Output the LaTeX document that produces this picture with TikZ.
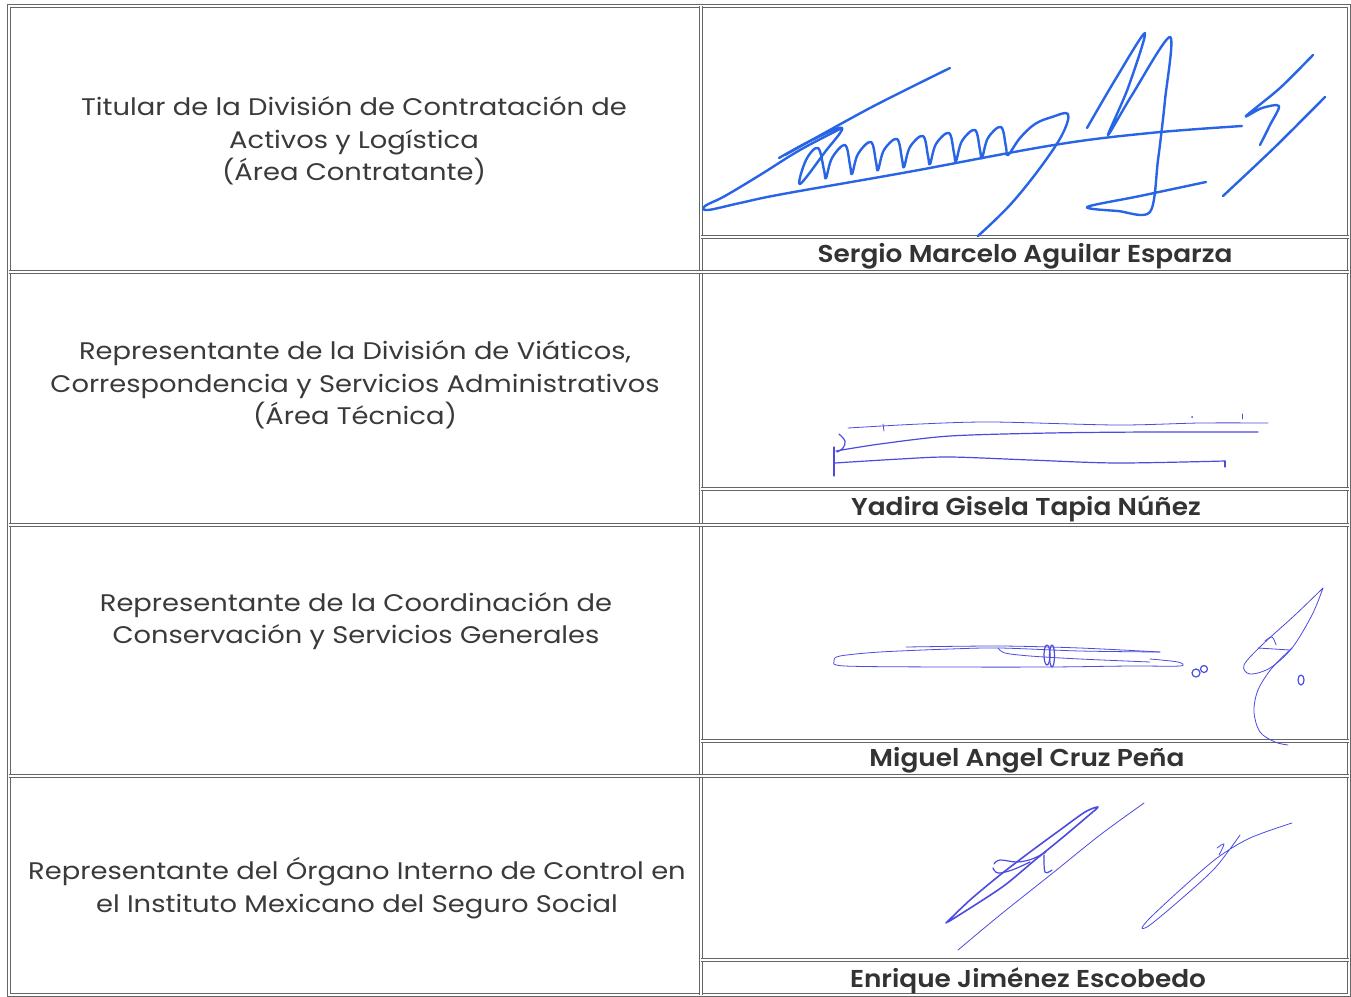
\documentclass[tikz,border=0pt]{standalone}
\usepackage{fontspec}
\setmainfont{Poppins}
\newfontfamily\rolefont{Poppins}[FakeStretch=1.14]
\newfontfamily\namefont{Poppins SemiBold}[FakeStretch=1.08]
\definecolor{txt}{HTML}{3A3A3A}
\definecolor{nametxt}{HTML}{333333}
\definecolor{rule}{HTML}{666666}
\definecolor{inkA}{RGB}{40,100,230}
\definecolor{inkB}{RGB}{75,75,225}
\tikzset{
  gridline/.style={draw=rule, line width=0.45pt, double=white, double distance=0.75pt},
  roletext/.style={align=center, inner sep=0pt, text=txt, font=\rolefont\fontsize{12}{16.25}\selectfont},
  persontext/.style={inner sep=0pt, text=nametxt, font=\namefont\fontsize{12.2}{14}\selectfont},
  sigA/.style={draw=inkA, line width=1.2pt, line cap=round, line join=round},
  sigB/.style={draw=inkB, line width=0.6pt, line cap=round, line join=round},
  sigBt/.style={draw=inkB, line width=0.4pt, line cap=round, line join=round},
}
\begin{document}
\begin{tikzpicture}[x=0.5pt, y=-0.5pt]
\useasboundingbox (0,0) rectangle (1351,997);
\fill[white] (0,0) rectangle (1351,997);
% grid
\draw[gridline] (9,6) rectangle (1349,995);
\draw[gridline] (701,6) -- (701,995);
\foreach \yy in {272,525,776} \draw[gridline] (9,\yy) -- (1349,\yy);
\foreach \yy in {237,489,741,960} \draw[gridline] (701,\yy) -- (1349,\yy);
% roles
\node[roletext] (r1) at (354,141) {Titular de la División de Contratación de\\Activos y Logística\\(Área Contratante)};
\node[roletext] (r2) at (355,385) {Representante de la División de Viáticos,\\Correspondencia y Servicios Administrativos\\(Área Técnica)};
\node[roletext] (r3) at (356,621) {Representante de la Coordinación de\\Conservación y Servicios Generales};
\node[roletext] (r4) at (357,888) {Representante del Órgano Interno de Control en\\el Instituto Mexicano del Seguro Social};
% names
\node[persontext] (n1) at (1025,256) {Sergio Marcelo Aguilar Esparza};
\node[persontext] (n2) at (1026,509) {Yadira Gisela Tapia Núñez};
\node[persontext] (n3) at (1027,760) {Miguel Angel Cruz Peña};
\node[persontext] (n4) at (1028,981) {Enrique Jiménez Escobedo};
% signature 1
\draw[sigA] plot[smooth, tension=0.6] coordinates {(842,128) (800,150) (760,175) (725,196) (705,206) (708,210) (740,203) (783,194) (908,172) (1054,145) (1150,133) (1242,126)};
\draw[sigA] plot[smooth, tension=0.6] coordinates {(779,158) (812,140) (842,128) (825,152) (800,184) (806,160) (818,148) (824,170) (826,178) (832,158) (845,145) (850,165) (852,174) (858,154) (871,142) (876,162) (878,170) (884,150) (897,139) (902,159) (904,167) (910,147) (923,136) (928,156) (930,164) (936,144) (949,133) (954,153) (956,161) (962,141) (975,130) (980,150) (982,158) (988,138) (1001,127) (1006,147) (1008,155) (1020,138) (1035,124) (1052,117) (1068,114) (1062,135) (1040,168) (1010,205) (978,236)};
\draw[sigA] plot[smooth, tension=0.5] coordinates {(785,155) (870,108) (950,68)};
\draw[sigA] plot[smooth, tension=0.5] coordinates {(1087,128) (1115,80) (1145,33) (1128,88) (1108,135) (1132,95) (1170,37) (1165,100) (1158,160) (1150,212) (1118,211) (1087,207) (1140,196) (1206,182)};
\draw[sigA] plot[smooth, tension=0.5] coordinates {(1313,55) (1280,88) (1246,116) (1262,108) (1279,106) (1270,125) (1260,145)};
\draw[sigA] plot[smooth, tension=0.5] coordinates {(1325,97) (1275,147) (1223,196)};
% signature 2
\draw[sigBt] plot[smooth, tension=0.5] coordinates {(848,428) (920,424) (992,422) (1117,425) (1200,423) (1268,423)};
\draw[sigBt] (883,424) -- (884,431);
\fill[inkB] (1192,417) circle (1);
\draw[sigBt] (1242,414) -- (1242,419);
\draw[sigB] plot[smooth, tension=0.6] coordinates {(839,434) (845,441) (843,448) (837,452)};
\draw[sigB] (834,447) -- (834,476);
\draw[sigB] plot[smooth, tension=0.5] coordinates {(836,451) (880,444) (950,436) (1050,433) (1150,432) (1258,432)};
\draw[sigB] plot[smooth, tension=0.5] coordinates {(835,463) (900,459) (950,457) (1030,460) (1117,463) (1225,461)};
\draw[sigB] (1225,461) -- (1225,467);
% signature 3
\draw[sigBt] plot[smooth, tension=0.5] coordinates {(1160,652) (1080,651) (1000,648) (950,649) (880,652) (840,656) (834,661) (845,666) (950,667) (1050,667) (1130,666) (1180,666) (1178,662) (1150,659)};
\draw[sigBt] plot[smooth, tension=0.5] coordinates {(906,647) (1000,646) (1080,648) (1160,652)};
\draw[sigBt] plot[smooth, tension=0.5] coordinates {(998,648) (1005,653) (1030,656) (1080,659) (1150,662)};
\draw[sigB] (1047,655) ellipse (3 and 10);
\draw[sigB] (1052,656) ellipse (2.5 and 11);
\draw[sigB] (1196,673) circle (4);
\draw[sigB] (1204,669) circle (3.5);
\draw[sigBt] plot[smooth, tension=0.55] coordinates {(1323,588) (1295,615) (1262,645) (1244,665) (1250,674) (1270,668) (1292,648) (1312,615) (1323,588)};
\draw[sigBt] plot[smooth, tension=0.55] coordinates {(1292,648) (1272,668) (1258,690) (1254,712) (1260,732) (1275,742) (1288,745)};
\draw[sigBt] (1258,648) -- (1290,650);
\draw[sigBt] plot[smooth, tension=0.6] coordinates {(1265,641) (1272,637) (1276,645)};
\draw[sigB] (1301,680) ellipse (3 and 5);
% signature 4
\draw[sigB, line width=0.8pt] plot[smooth, tension=0.5] coordinates {(946,923) (970,900) (1000,875) (1030,852) (1060,830) (1085,812) (1098,807) (1088,816) (1062,838) (1035,860) (1005,885) (975,905) (948,922)};
\draw[sigB] plot[smooth, tension=0.6] coordinates {(994,864) (1000,860) (1017,862) (1032,859) (1046,852)};
\draw[sigB] plot[smooth, tension=0.6] coordinates {(993,868) (998,873) (1012,870) (1030,862)};
\draw[sigB] plot[smooth, tension=0.6] coordinates {(1044,855) (1045,872) (1052,870)};
\draw[sigBt] plot[smooth, tension=0.5] coordinates {(958,950) (1000,915) (1054,872) (1100,835) (1144,803)};
\draw[sigBt] plot[smooth, tension=0.5] coordinates {(1240,835) (1215,868) (1180,900) (1150,925) (1142,928) (1150,918) (1180,890) (1217,858) (1250,838) (1292,823)};
\draw[sigBt] plot[smooth, tension=0.6] coordinates {(1217,848) (1224,844) (1219,855)};
\end{tikzpicture}
\end{document}
